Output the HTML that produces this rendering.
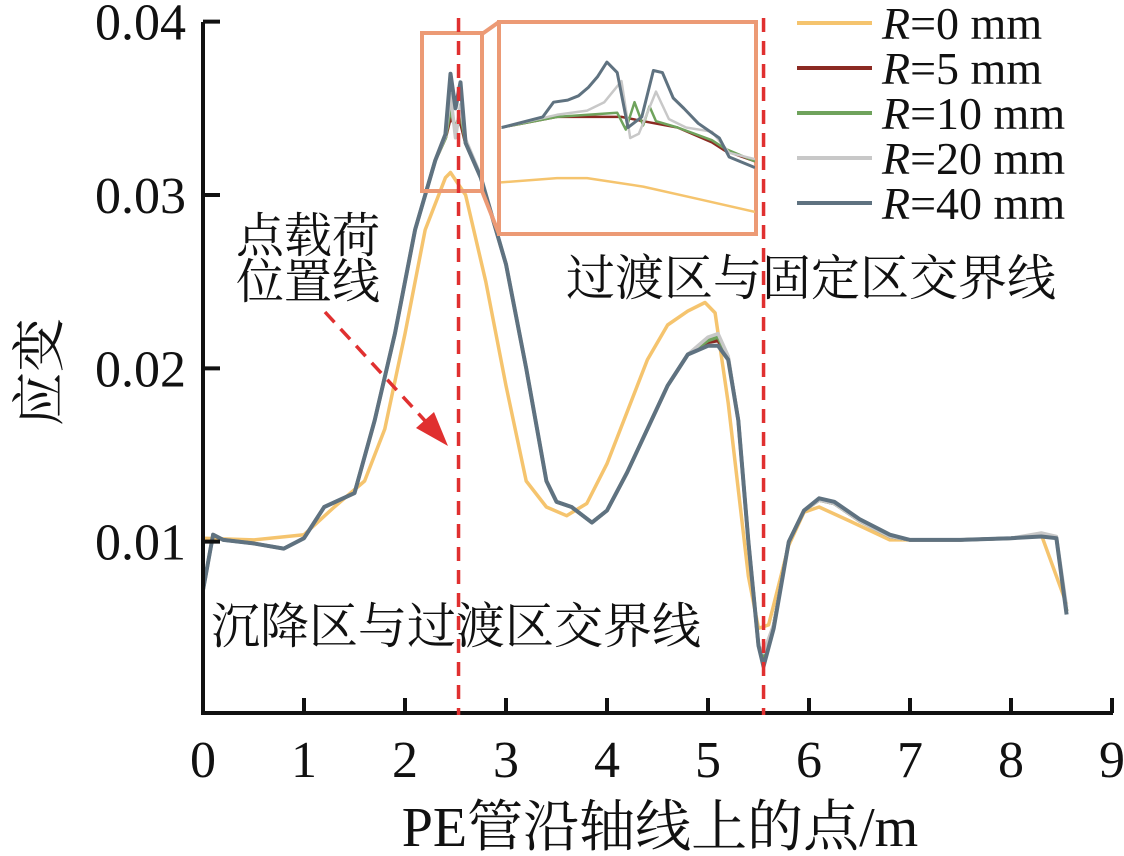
<!DOCTYPE html>
<html><head><meta charset="utf-8">
<style>
html,body{margin:0;padding:0;background:#fff;}
svg{display:block;}
text{font-family:"Liberation Serif","Noto Serif CJK SC","Noto Sans CJK SC",serif;fill:#111;}
</style></head>
<body>
<svg id="chart" width="1124" height="856" viewBox="0 0 1124 856" xmlns="http://www.w3.org/2000/svg">
<defs>
<clipPath id="insetClip"><rect x="501" y="24" width="254" height="207"/></clipPath>
</defs>
<g id="grid"></g>
<g id="series"></g>
<g id="inset"></g>
<g id="axes"></g>
<g id="annot"></g>
</svg>
<script>
// ---- data ----
const xTicks = [0,1,2,3,4,5,6,7,8,9];
const yTicks = [0.01,0.02,0.03,0.04];
const yTickLabels = ["0.01","0.02","0.03","0.04"];
const seriesNames = ["R=0 mm","R=5 mm","R=10 mm","R=20 mm","R=40 mm"];
const seriesColors = ["#f5c46e","#8b2a22","#6fa35c","#c8c8c8","#5f7280"];
const boundaryX = [2.53, 5.55];

const xR0 = [0,0.5,1.0,1.3,1.6,1.8,2.0,2.2,2.4,2.45,2.6,2.8,3.0,3.2,3.4,3.6,3.8,4.0,4.2,4.4,4.6,4.8,4.97,5.07,5.2,5.4,5.5,5.6,5.8,5.95,6.1,6.4,6.8,7.5,8.0,8.3,8.55];
const yR0 = [0.0102,0.0101,0.0104,0.0120,0.0135,0.0165,0.0220,0.0280,0.0310,0.0313,0.0300,0.0250,0.0190,0.0135,0.0120,0.0115,0.0122,0.0145,0.0175,0.0205,0.0225,0.0233,0.0238,0.0232,0.0180,0.0080,0.0050,0.0052,0.0098,0.0117,0.0120,0.0112,0.0101,0.0101,0.0102,0.0104,0.0064];

const xMain = [0,0.1,0.2,0.5,0.8,1.0,1.2,1.5,1.7,1.9,2.1,2.3,2.4,2.45,2.5,2.55,2.6,2.75,3.0,3.2,3.4,3.5,3.65,3.85,4.0,4.2,4.4,4.6,4.8,5.0,5.1,5.2,5.3,5.4,5.5,5.55,5.65,5.8,5.95,6.1,6.25,6.5,6.8,7.0,7.5,8.0,8.3,8.45,8.55];
const yR5  = [0.0072,0.0104,0.0101,0.0099,0.0096,0.0102,0.0120,0.0128,0.0170,0.0220,0.0280,0.0320,0.0333,0.0345,0.0340,0.0342,0.0330,0.0310,0.0260,0.0200,0.0135,0.0123,0.0120,0.0111,0.0118,0.0140,0.0165,0.0190,0.0208,0.0215,0.0216,0.0206,0.0170,0.0100,0.0040,0.0032,0.0052,0.0100,0.0118,0.0124,0.0122,0.0112,0.0103,0.0101,0.0101,0.0102,0.0104,0.0102,0.0060];
const yR10 = [0.0072,0.0104,0.0101,0.0099,0.0096,0.0102,0.0120,0.0128,0.0170,0.0220,0.0280,0.0320,0.0333,0.0350,0.0338,0.0348,0.0330,0.0310,0.0260,0.0200,0.0135,0.0123,0.0120,0.0111,0.0118,0.0140,0.0165,0.0190,0.0208,0.0216,0.0218,0.0206,0.0170,0.0100,0.0040,0.0034,0.0052,0.0100,0.0118,0.0124,0.0122,0.0112,0.0103,0.0101,0.0101,0.0102,0.0104,0.0102,0.0060];
const yR20 = [0.0072,0.0104,0.0101,0.0099,0.0096,0.0102,0.0120,0.0128,0.0170,0.0220,0.0280,0.0320,0.0334,0.0358,0.0333,0.0352,0.0332,0.0311,0.0260,0.0200,0.0135,0.0123,0.0120,0.0111,0.0118,0.0140,0.0165,0.0190,0.0208,0.0218,0.0220,0.0207,0.0170,0.0100,0.0040,0.0036,0.0052,0.0100,0.0118,0.0124,0.0122,0.0112,0.0103,0.0101,0.0101,0.0102,0.0105,0.0103,0.0062];
const yR40 = [0.0072,0.0104,0.0101,0.0099,0.0096,0.0102,0.0120,0.0128,0.0170,0.0220,0.0280,0.0320,0.0335,0.0370,0.0350,0.0365,0.0330,0.0310,0.0260,0.0200,0.0135,0.0123,0.0120,0.0111,0.0118,0.0140,0.0165,0.0190,0.0208,0.0213,0.0213,0.0205,0.0170,0.0100,0.0040,0.0028,0.0050,0.0100,0.0118,0.0125,0.0123,0.0113,0.0104,0.0101,0.0101,0.0102,0.0103,0.0102,0.0058];

// inset (zoomed peak region)
const xInR0 = [2.17,2.30,2.37,2.50,2.63,2.76];
const yInR0 = [0.0309,0.0311,0.0311,0.0307,0.0301,0.0295];
const xInR5 = [2.17,2.30,2.45,2.50,2.58,2.66,2.69,2.76];
const yInR5 = [0.0335,0.0340,0.0340,0.0338,0.0335,0.0328,0.0324,0.0319];
const xInR10 = [2.17,2.30,2.44,2.46,2.48,2.50,2.515,2.53,2.58,2.66,2.69,2.76];
const yInR10 = [0.0335,0.0340,0.0342,0.0334,0.0347,0.0336,0.0345,0.0338,0.0335,0.0329,0.0325,0.0319];
const xInR20 = [2.17,2.30,2.37,2.41,2.45,2.47,2.49,2.53,2.56,2.60,2.66,2.70,2.76];
const yInR20 = [0.0335,0.0341,0.0343,0.0347,0.0357,0.0330,0.0332,0.0352,0.0339,0.0335,0.0333,0.0323,0.0320];
const xInR40 = [2.172,2.267,2.292,2.325,2.35,2.373,2.394,2.416,2.44,2.465,2.497,2.524,2.545,2.57,2.595,2.628,2.677,2.70,2.76];
const yInR40 = [0.0335,0.0340,0.0347,0.0348,0.0350,0.0354,0.0359,0.0366,0.0361,0.0335,0.0340,0.0362,0.0361,0.0349,0.0344,0.0337,0.0330,0.0321,0.0316];

// ---- scales ----
const X0=203, XU=101.0, Y0=715, YU=17333;
const sx = v => X0 + v*XU;
const sy = v => Y0 - v*YU;
const ix = v => 501 + (v-2.17)/(2.76-2.17)*254;
const iy = v => 22 + (0.0385 - v)/0.01*211;

const NS="http://www.w3.org/2000/svg";
function mk(tag, parent){const e=document.createElementNS(NS,tag);document.getElementById(parent).appendChild(e);return e;}
function pathD(xs,ys,fx,fy){return xs.map((x,i)=>(i?'L':'M')+fx(x).toFixed(1)+','+fy(ys[i]).toFixed(1)).join(' ');}

const mainX=[xR0,xMain,xMain,xMain,xMain];
const mainY=[yR0,yR5,yR10,yR20,yR40];
const inX=[xInR0,xInR5,xInR10,xInR20,xInR40];
const inY=[yInR0,yInR5,yInR10,yInR20,yInR40];
const keys=["r0","r5","r10","r20","r40"];

for(let s=0;s<5;s++){
  const p=mk('path','series');
  
  
  p.setAttribute('d',pathD(mainX[s],mainY[s],sx,sy));
  p.setAttribute('fill','none');p.setAttribute('stroke',seriesColors[s]);
  p.setAttribute('stroke-width',s==4?4:3.5);p.setAttribute('stroke-linejoin','round');
}

// boundary lines
boundaryX.forEach((b,i)=>{
  const l=mk('line','annot');
  
  
  l.setAttribute('x1',sx(b));l.setAttribute('x2',sx(b));l.setAttribute('y1',18);l.setAttribute('y2',Y0);
  l.setAttribute('stroke','#e03030');l.setAttribute('stroke-width',3.5);l.setAttribute('stroke-dasharray','14,9');
});

// inset
const ib=mk('rect','inset');


ib.setAttribute('x',499);ib.setAttribute('y',22);ib.setAttribute('width',257);ib.setAttribute('height',212);
ib.setAttribute('fill','#fff');ib.setAttribute('stroke','#ec9a75');ib.setAttribute('stroke-width',4);
const sb=mk('rect','inset');


sb.setAttribute('x',422);sb.setAttribute('y',33);sb.setAttribute('width',60);sb.setAttribute('height',158);
sb.setAttribute('fill','none');sb.setAttribute('stroke','#ec9a75');sb.setAttribute('stroke-width',4);
const c1=mk('line','inset');


c1.setAttribute('x1',482);c1.setAttribute('y1',34);c1.setAttribute('x2',499);c1.setAttribute('y2',22);
c1.setAttribute('stroke','#ec9a75');c1.setAttribute('stroke-width',4);
const c2=mk('line','inset');


c2.setAttribute('x1',482);c2.setAttribute('y1',191);c2.setAttribute('x2',499);c2.setAttribute('y2',234);
c2.setAttribute('stroke','#ec9a75');c2.setAttribute('stroke-width',4);
const ig=mk('g','inset');ig.setAttribute('clip-path','url(#insetClip)');ig.id='insetLines';
for(let s=0;s<5;s++){
  const p=mk('path','insetLines');
  
  
  p.setAttribute('d',pathD(inX[s],inY[s],ix,iy));
  p.setAttribute('fill','none');p.setAttribute('stroke',seriesColors[s]);
  p.setAttribute('stroke-width',s==4?3:2.5);p.setAttribute('stroke-linejoin','round');
}

// axes
const ax=mk('path','axes');


ax.setAttribute('d',`M${X0},22 L${X0},${Y0-2} L1113,${Y0-2}`);
ax.setAttribute('fill','none');ax.setAttribute('stroke','#111');ax.setAttribute('stroke-width',4);
xTicks.forEach(t=>{
  const l=mk('line','axes');
  
  
  l.setAttribute('x1',sx(t));l.setAttribute('x2',sx(t));l.setAttribute('y1',Y0-2);l.setAttribute('y2',Y0-17);
  l.setAttribute('stroke','#111');l.setAttribute('stroke-width',4);
  const tx=mk('text','axes');
  
  
  tx.setAttribute('x',sx(t));tx.setAttribute('y',777);tx.setAttribute('text-anchor','middle');
  tx.setAttribute('font-size',52);tx.textContent=String(t);
});
yTicks.forEach((t,i)=>{
  const l=mk('line','axes');
  
  
  l.setAttribute('x1',X0);l.setAttribute('x2',X0+17);l.setAttribute('y1',sy(t));l.setAttribute('y2',sy(t));
  l.setAttribute('stroke','#111');l.setAttribute('stroke-width',4);
  const tx=mk('text','axes');
  
  
  tx.setAttribute('x',186);tx.setAttribute('y',sy(t)+18);tx.setAttribute('text-anchor','end');
  tx.setAttribute('font-size',52);tx.textContent=yTickLabels[i];
});

// legend
seriesNames.forEach((n,i)=>{
  const y=23+i*45;
  const l=mk('line','annot');
  
  
  l.setAttribute('x1',797);l.setAttribute('x2',872);l.setAttribute('y1',y);l.setAttribute('y2',y);
  l.setAttribute('stroke',seriesColors[i]);l.setAttribute('stroke-width',4);
  const t=mk('text','annot');
  
  
  t.setAttribute('x',882);t.setAttribute('y',y+16);t.setAttribute('font-size',46);
  const r=document.createElementNS(NS,'tspan');r.setAttribute('font-style','italic');r.textContent='R';
  t.appendChild(r);t.appendChild(document.createTextNode(n.slice(1)));
});
</script>
<svg style="position:absolute;left:0;top:0" width="1124" height="856" viewBox="0 0 1124 856" xmlns="http://www.w3.org/2000/svg">
<text x="236" y="252" font-size="48" style="font-family:'Liberation Serif','Noto Serif CJK SC',serif">点载荷</text>
<text x="236" y="298" font-size="48" style="font-family:'Liberation Serif','Noto Serif CJK SC',serif">位置线</text>
<text x="566" y="295" font-size="49" style="font-family:'Liberation Serif','Noto Serif CJK SC',serif">过渡区与固定区交界线</text>
<text x="211" y="643" font-size="49" style="font-family:'Liberation Serif','Noto Serif CJK SC',serif">沉降区与过渡区交界线</text>
<line x1="325" y1="312" x2="428" y2="424" stroke="#e03030" stroke-width="3.5" stroke-dasharray="14,9"/>
<polygon points="448,446 416,428 434,412" fill="#e03030"/>
<text transform="translate(58,372) rotate(-90)" text-anchor="middle" font-size="54" style="font-family:'Liberation Serif','Noto Serif CJK SC',serif">应变</text>
<text x="660" y="846" text-anchor="middle" font-size="56" style="font-family:'Liberation Serif','Noto Serif CJK SC',serif">PE管沿轴线上的点/m</text>
</svg>
</body></html>
